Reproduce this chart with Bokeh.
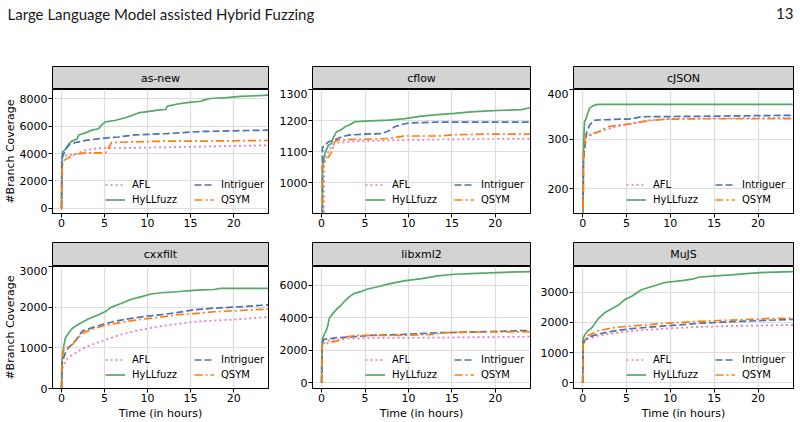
from bokeh.plotting import figure
from bokeh.models import Range1d, FixedTicker, Label, Legend, LegendItem
from bokeh.layouts import row, column
from bokeh.embed import file_html
from bokeh.resources import INLINE

HEADER_TITLE = "Large Language Model assisted Hybrid Fuzzing"
PAGE_NUMBER = "13"
X_LABEL = "Time (in hours)"
Y_LABEL = "#Branch Coverage"
SERIES = ["AFL", "HyLLfuzz", "Intriguer", "QSYM"]
X_TICKS = [0, 5, 10, 15, 20]

# ---------------- as-new ----------------
ASNEW_AFL_T = [0, 0.03, 0.5, 1.6, 2.8, 3.9, 4.7, 6.6, 12.3, 20, 24]
ASNEW_AFL_Y = [0, 3750, 3850, 3950, 4250, 4350, 4400, 4400, 4450, 4550, 4600]
ASNEW_HYLL_T = [0, 0.05, 0.1, 0.46, 0.84, 1.2, 1.8, 2.0, 2.8, 3.5, 4.3, 4.7, 5.1, 6.2, 7.4,
                8.1, 8.9, 10, 11.2, 12.1, 12.3, 13.5, 14.6, 16.2, 16.6, 17.3, 19.2, 20.8, 24]
ASNEW_HYLL_Y = [0, 3000, 4100, 4300, 4700, 4900, 5050, 5350, 5500, 5700, 5800, 6100, 6300, 6400, 6600,
                6750, 6950, 7050, 7150, 7200, 7450, 7600, 7700, 7800, 7900, 8000, 8070, 8150, 8240]
ASNEW_INTR_T = [0, 0.03, 0.08, 0.46, 0.84, 1.6, 2.8, 4.7, 6.6, 8.5, 12.3, 16.2, 20, 24]
ASNEW_INTR_Y = [0, 3500, 3700, 4300, 4600, 4800, 4950, 5100, 5200, 5350, 5450, 5600, 5650, 5700]
ASNEW_QSYM_T = [0, 0.05, 0.3, 0.84, 1.6, 2.8, 5.1, 5.4, 5.8, 8.5, 12.3, 16, 24]
ASNEW_QSYM_Y = [0, 3000, 3500, 3700, 3950, 4050, 4050, 4300, 4800, 4850, 4900, 4900, 4950]
ASNEW_YRANGE = [-364, 8655]
ASNEW_YTICKS = [0, 2000, 4000, 6000, 8000]

# ---------------- cflow ----------------
CFLOW_AFL_T = [0, 0.3, 0.57, 1.15, 1.9, 3.8, 9.6, 17.2, 24]
CFLOW_AFL_Y = [0, 1060, 1088, 1120, 1128, 1133, 1137, 1140, 1141]
CFLOW_HYLL_T = [0, 0.1, 0.38, 0.77, 1.15, 1.3, 1.7, 2.3, 2.7, 3.3, 3.8, 5, 7.7, 9.6, 11.5,
                13.4, 15.3, 17.2, 19.2, 21, 23, 24]
CFLOW_HYLL_Y = [0, 1050, 1094, 1120, 1126, 1142, 1163, 1171, 1180, 1187, 1196, 1198, 1201, 1206, 1214,
                1219, 1223, 1228, 1231, 1233, 1235, 1241]
CFLOW_INTR_T = [0, 0.1, 0.77, 1.5, 2.1, 3.1, 5, 6.9, 7.7, 8.4, 9.2, 10, 13.4, 24]
CFLOW_INTR_Y = [0, 1113, 1131, 1137, 1145, 1153, 1156, 1158, 1166, 1180, 1187, 1192, 1195, 1195]
CFLOW_QSYM_T = [0, 0.08, 0.38, 0.77, 1.15, 1.5, 1.9, 4.2, 7.7, 9.6, 13.4, 15.3, 19.2, 24]
CFLOW_QSYM_Y = [0, 1050, 1072, 1081, 1099, 1131, 1137, 1139, 1142, 1150, 1150, 1154, 1156, 1156]
CFLOW_YRANGE = [900, 1300]
CFLOW_YTICKS = [1000, 1100, 1200, 1300]

# ---------------- cJSON ----------------
CJSON_AFL_T = [0, 0.08, 0.4, 1.7, 4, 7.5, 10.5, 24]
CJSON_AFL_Y = [0, 261, 304, 314, 326, 338, 341, 343]
CJSON_HYLL_T = [0, 0.08, 0.2, 0.38, 0.57, 0.77, 1.15, 1.7, 24]
CJSON_HYLL_Y = [0, 277, 335, 341, 352, 362, 367, 370, 370]
CJSON_INTR_T = [0, 0.08, 0.4, 0.77, 1.3, 2.5, 5.6, 6.7, 13.2, 24]
CJSON_INTR_Y = [0, 257, 311, 328, 338, 339, 341, 345, 346, 348]
CJSON_QSYM_T = [0, 0.08, 0.27, 0.57, 1.7, 2.9, 4, 5.6, 7.5, 9.4, 13.2, 24]
CJSON_QSYM_Y = [0, 264, 304, 308, 314, 325, 328, 331, 337, 340, 341, 341]
CJSON_YRANGE = [150, 400]
CJSON_YTICKS = [200, 300, 400]

# ---------------- cxxfilt ----------------
CXX_AFL_T = [0, 0.08, 0.46, 0.84, 2, 3.1, 4.7, 6.6, 8.5, 10.4, 12.3, 14.3, 16.2, 18.1, 20, 24]
CXX_AFL_Y = [0, 484, 685, 766, 927, 1048, 1169, 1306, 1411, 1492, 1556, 1613, 1653, 1677, 1694, 1758]
CXX_HYLL_T = [0, 0.08, 0.27, 0.46, 0.84, 1.2, 1.6, 2.4, 3.1, 4.3, 5.1, 5.8, 7, 8.1, 9.3, 10.4,
              11.6, 13.5, 14.6, 15.8, 17.7, 18.5, 24]
CXX_HYLL_Y = [0, 726, 1048, 1250, 1371, 1468, 1532, 1629, 1710, 1815, 1895, 2000, 2097, 2194, 2258, 2323,
              2355, 2379, 2403, 2419, 2435, 2460, 2460]
CXX_INTR_T = [0, 0.08, 0.46, 0.84, 1.6, 2.4, 3.5, 4.7, 6.2, 7.7, 9.7, 11.6, 13.5, 15.4, 17.7, 20, 24]
CXX_INTR_Y = [0, 645, 887, 1008, 1169, 1411, 1492, 1573, 1653, 1710, 1774, 1815, 1871, 1935, 1976, 2000, 2056]
CXX_QSYM_T = [0, 0.02, 0.15, 0.65, 1.2, 1.8, 2.4, 3.5, 4.7, 6.2, 7.7, 9.7, 11.6, 13.5, 15.4, 17.7, 20, 24]
CXX_QSYM_Y = [0, 524, 927, 1008, 1065, 1210, 1355, 1452, 1532, 1597, 1653, 1710, 1758, 1815, 1839, 1887, 1911, 1952]
CXX_YRANGE = [0, 3000]
CXX_YTICKS = [0, 1000, 2000, 3000]

# ---------------- libxml2 ----------------
XML_AFL_T = [0, 0.04, 0.7, 2.6, 5.7, 13.4, 24]
XML_AFL_Y = [0, 2364, 2566, 2707, 2747, 2768, 2828]
XML_HYLL_T = [0, 0.04, 0.1, 0.3, 0.5, 0.7, 0.9, 1.1, 1.5, 1.85, 2.2, 2.6, 3.2, 3.8, 4.5, 5.3, 6.5,
              7.6, 9.5, 11.5, 13.4, 15.3, 17.2, 19.2, 21, 24]
XML_HYLL_Y = [0, 1858, 2667, 2970, 3172, 3475, 3980, 4121, 4384, 4586, 4727, 4990, 5293, 5495, 5596, 5758, 5899,
              6061, 6263, 6404, 6566, 6667, 6707, 6747, 6788, 6828]
XML_INTR_T = [0, 0.04, 0.3, 1.85, 3.8, 5.7, 9.5, 13.4, 17.2, 24]
XML_INTR_Y = [0, 2465, 2667, 2768, 2828, 2909, 2970, 3071, 3111, 3212]
XML_QSYM_T = [0, 0.04, 0.5, 1.85, 3, 4.1, 9.5, 12.6, 14.5, 17.2, 24]
XML_QSYM_Y = [0, 2364, 2424, 2566, 2828, 2909, 2909, 2970, 3071, 3111, 3131]
XML_YRANGE = [-361, 7145]
XML_YTICKS = [0, 2000, 4000, 6000]

# ---------------- MuJS ----------------
MUJS_AFL_T = [0, 0.04, 0.57, 1.7, 3.6, 5.6, 9.4, 13.2, 17, 24]
MUJS_AFL_Y = [0, 1283, 1446, 1554, 1641, 1717, 1793, 1848, 1880, 1913]
MUJS_HYLL_T = [0, 0.04, 0.2, 0.57, 0.96, 1.34, 1.7, 2.1, 2.5, 3.3, 4, 4.8, 5.6, 6.7, 7.9, 9.4,
               11.3, 12.5, 13.2, 15.1, 17, 19, 20.9, 24]
MUJS_HYLL_Y = [0, 1446, 1576, 1717, 1793, 1935, 2098, 2207, 2315, 2446, 2554, 2750, 2859, 3076, 3185, 3315,
               3380, 3424, 3489, 3533, 3565, 3620, 3652, 3674]
MUJS_INTR_T = [0, 0.04, 0.57, 1.7, 3.6, 5.6, 9.4, 13.2, 17, 20.9, 24]
MUJS_INTR_Y = [0, 1337, 1500, 1609, 1717, 1793, 1880, 1967, 2022, 2065, 2098]
MUJS_QSYM_T = [0, 0.04, 0.57, 1.7, 3.6, 5.6, 9.4, 13.2, 17, 20.9, 24]
MUJS_QSYM_Y = [0, 1283, 1554, 1717, 1826, 1880, 1967, 2033, 2076, 2120, 2141]
MUJS_YRANGE = [-185, 3844]
MUJS_YTICKS = [0, 1000, 2000, 3000]

FONT = "DejaVu Sans"
COLORS = {"AFL": "#e377c2", "HyLLfuzz": "#55a868", "Intriguer": "#4c72b0", "QSYM": "#ff7f0e"}
DASHES = {"AFL": "2 3", "HyLLfuzz": "solid", "Intriguer": "7 3", "QSYM": "8 3 2 3"}
X_RANGE = (-1.05, 24.05)


def make_strip(title, width, bl, br, bt, frame_h):
    s = figure(width=width, height=bt + frame_h, x_range=Range1d(0, 1), y_range=Range1d(0, 1),
               toolbar_location=None, output_backend="svg", x_axis_location=None, y_axis_location=None,
               min_border_left=bl, min_border_right=br, min_border_top=bt, min_border_bottom=0)
    s.background_fill_color = "#d3d3d3"
    s.border_fill_color = "white"
    s.outline_line_color = "black"
    s.outline_line_width = 1
    s.grid.grid_line_color = None
    s.add_layout(Label(x=0.5, y=0.5, text=title, text_align="center", text_baseline="middle",
                       text_font=FONT, text_font_size="11px", text_color="black"))
    return s


def make_panel(series_data, yrange, yticks, width, bl, br, frame_h, bb, xlabel, ylabel):
    p = figure(width=width, height=frame_h + bb, x_range=Range1d(*X_RANGE), y_range=Range1d(*yrange),
               toolbar_location=None, output_backend="svg",
               min_border_left=bl, min_border_right=br, min_border_top=0, min_border_bottom=bb)
    p.background_fill_color = "white"
    p.border_fill_color = "white"
    p.outline_line_color = "black"
    p.outline_line_width = 1
    p.grid.grid_line_color = "#dddddd"
    p.grid.grid_line_width = 1.2
    p.xaxis.ticker = FixedTicker(ticks=X_TICKS)
    p.yaxis.ticker = FixedTicker(ticks=yticks)
    for ax in (p.xaxis[0], p.yaxis[0]):
        ax.major_label_text_font = FONT
        ax.major_label_text_font_size = "11px"
        ax.major_label_text_color = "black"
        ax.major_tick_in = 0
        ax.major_tick_out = 4
        ax.major_tick_line_color = "black"
        ax.minor_tick_line_color = None
        ax.axis_line_color = "black"
        ax.major_label_standoff = 1
        ax.axis_label_text_font = FONT
        ax.axis_label_text_font_size = "11px"
        ax.axis_label_text_font_style = "normal"
        ax.axis_label_text_color = "black"
        ax.axis_label_standoff = 2
    p.yaxis[0].axis_label_standoff = 0
    if xlabel:
        p.xaxis.axis_label = xlabel
    if ylabel:
        p.yaxis.axis_label = ylabel
    items = {}
    for name in SERIES:
        t, v = series_data[name]
        r = p.line(t, v, line_color=COLORS[name], line_width=1.7, line_dash=DASHES[name])
        items[name] = LegendItem(label=name, renderers=[r])
    for names, xloc in ((["AFL", "HyLLfuzz"], 53), (["Intriguer", "QSYM"], 142)):
        leg = Legend(items=[items[n] for n in names], location=(xloc, 7), orientation="vertical",
                     padding=0, margin=0, spacing=2, glyph_width=20, glyph_height=13, label_height=13,
                     label_standoff=7, label_text_font=FONT, label_text_font_size="10px",
                     label_text_color="black", background_fill_alpha=0, border_line_alpha=0)
        p.add_layout(leg)
    return p


panels = [
    ("as-new", {"AFL": (ASNEW_AFL_T, ASNEW_AFL_Y), "HyLLfuzz": (ASNEW_HYLL_T, ASNEW_HYLL_Y),
                "Intriguer": (ASNEW_INTR_T, ASNEW_INTR_Y), "QSYM": (ASNEW_QSYM_T, ASNEW_QSYM_Y)},
     ASNEW_YRANGE, ASNEW_YTICKS),
    ("cflow", {"AFL": (CFLOW_AFL_T, CFLOW_AFL_Y), "HyLLfuzz": (CFLOW_HYLL_T, CFLOW_HYLL_Y),
               "Intriguer": (CFLOW_INTR_T, CFLOW_INTR_Y), "QSYM": (CFLOW_QSYM_T, CFLOW_QSYM_Y)},
     CFLOW_YRANGE, CFLOW_YTICKS),
    ("cJSON", {"AFL": (CJSON_AFL_T, CJSON_AFL_Y), "HyLLfuzz": (CJSON_HYLL_T, CJSON_HYLL_Y),
               "Intriguer": (CJSON_INTR_T, CJSON_INTR_Y), "QSYM": (CJSON_QSYM_T, CJSON_QSYM_Y)},
     CJSON_YRANGE, CJSON_YTICKS),
    ("cxxfilt", {"AFL": (CXX_AFL_T, CXX_AFL_Y), "HyLLfuzz": (CXX_HYLL_T, CXX_HYLL_Y),
                 "Intriguer": (CXX_INTR_T, CXX_INTR_Y), "QSYM": (CXX_QSYM_T, CXX_QSYM_Y)},
     CXX_YRANGE, CXX_YTICKS),
    ("libxml2", {"AFL": (XML_AFL_T, XML_AFL_Y), "HyLLfuzz": (XML_HYLL_T, XML_HYLL_Y),
                 "Intriguer": (XML_INTR_T, XML_INTR_Y), "QSYM": (XML_QSYM_T, XML_QSYM_Y)},
     XML_YRANGE, XML_YTICKS),
    ("MuJS", {"AFL": (MUJS_AFL_T, MUJS_AFL_Y), "HyLLfuzz": (MUJS_HYLL_T, MUJS_HYLL_Y),
              "Intriguer": (MUJS_INTR_T, MUJS_INTR_Y), "QSYM": (MUJS_QSYM_T, MUJS_QSYM_Y)},
     MUJS_YRANGE, MUJS_YTICKS),
]

# column geometry: (width, left border, right border)
COLS = [(276, 50, 8), (261, 36, 7), (263, 36, 7)]
# row geometry: (strip top border, strip height, plot frame height, bottom border)
ROWS = [(26, 23, 124, 19), (10, 24, 124, 32)]

header = figure(width=800, height=40, x_range=Range1d(0, 800), y_range=Range1d(0, 40),
                toolbar_location=None, output_backend="svg", x_axis_location=None, y_axis_location=None,
                min_border=0)
header.outline_line_color = None
header.grid.grid_line_color = None
header.add_layout(Label(x=7, y=27, text=HEADER_TITLE, text_align="left", text_baseline="middle",
                        text_font="Lato", text_font_size="15px", text_color="#1a1a1a"))
header.add_layout(Label(x=793, y=27, text=PAGE_NUMBER, text_align="right", text_baseline="middle",
                        text_font="Lato", text_font_size="15px", text_color="#1a1a1a"))

rows = []
for ri, (bt, sh, fh, bb) in enumerate(ROWS):
    cells = []
    for ci, (w, bl, br) in enumerate(COLS):
        title, data, yr, yt = panels[ri * 3 + ci]
        strip = make_strip(title, w, bl, br, bt, sh)
        panel = make_panel(data, yr, yt, w, bl, br, fh, bb,
                           X_LABEL if ri == 1 else None, Y_LABEL if ci == 0 else None)
        cells.append(column(strip, panel, spacing=0))
    rows.append(row(*cells, spacing=0))

layout = column(header, *rows, spacing=0)
open("out.html", "w").write(file_html(layout, INLINE))
